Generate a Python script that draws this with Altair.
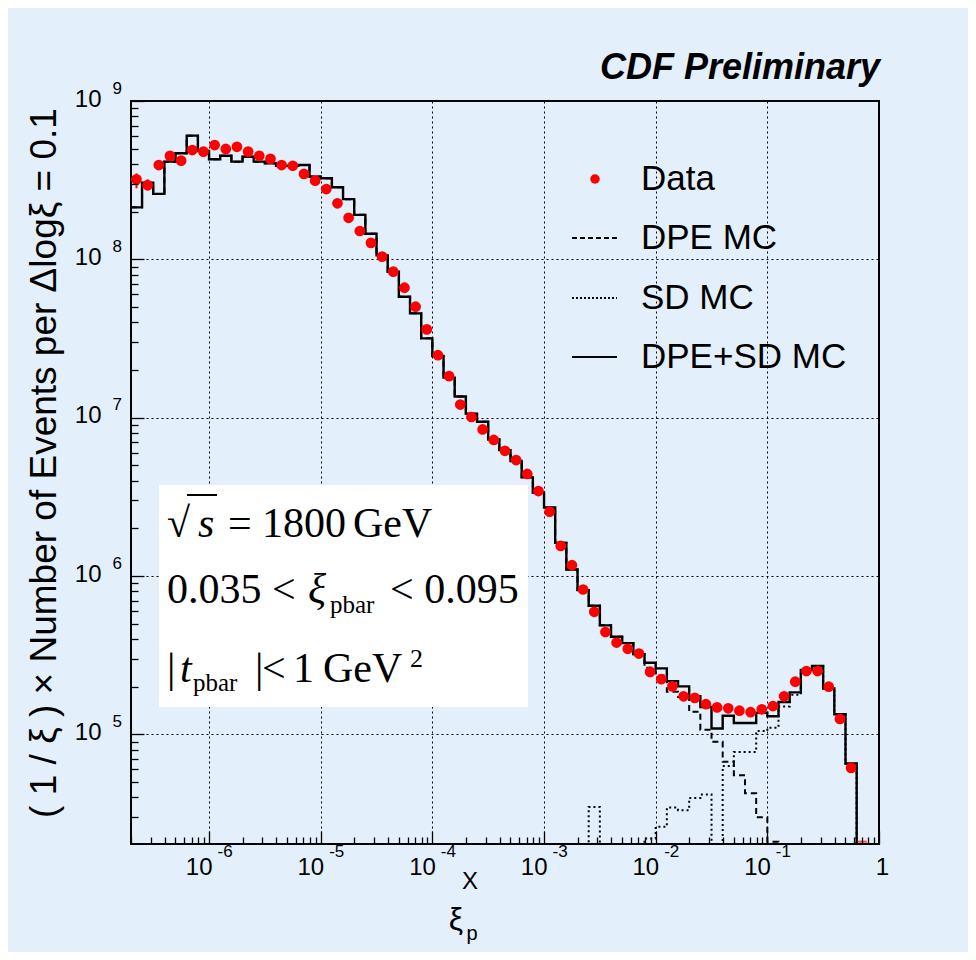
import altair as alt
import pandas as pd

# ---------------- data ----------------
BIN_LOG_START = -6.7      # log10 of the lower edge of the first bin
BIN_LOG_WIDTH = 0.1       # bin width in log10(xi)
FLOOR = 1e2               # empty bins are drawn below the axis (clipped)

# Data points, bins 0..64 (bin centres)
data_y = [3.2e8, 2.94e8, 3.94e8, 4.5e8, 4.2e8, 4.9e8, 4.79e8, 5.27e8, 4.98e8, 5.14e8,
          4.79e8, 4.51e8, 4.31e8, 3.94e8, 3.9e8, 3.46e8, 3.14e8, 2.78e8, 2.26e8, 1.83e8,
          1.51e8, 1.27e8, 1.04e8, 8.36e7, 6.62e7, 5.02e7, 3.61e7, 2.48e7, 1.83e7, 1.21e7,
          1.01e7, 8.43e6, 7.23e6, 6.18e6, 5.4e6, 4.41e6, 3.44e6, 2.55e6, 1.55e6, 1.17e6,
          8.22e5, 5.94e5, 4.43e5, 3.8e5, 3.47e5, 3.24e5, 2.48e5, 2.23e5, 2.01e5, 1.74e5,
          1.70e5, 1.55e5, 1.48e5, 1.46e5, 1.41e5, 1.38e5, 1.44e5, 1.51e5, 1.74e5, 2.15e5,
          2.51e5, 2.51e5, 2.0e5, 1.25e5, 6.14e4]

# visible error bars (bins 0 and 1)
err_bins = [0, 1]
err_low = [2.81e8, 2.72e8]
err_high = [3.49e8, 3.2e8]

# point below the axis range, only its error tick shows at the bottom
under_bins = [65]
under_y = [2.1e4]

# DPE+SD MC (solid), bins 0..66
mc_total = [2.13e8, 3.05e8, 2.59e8, 4.14e8, 4.68e8, 6.04e8, 4.83e8, 4.29e8, 4.51e8, 4.14e8,
            4.45e8, 4.14e8, 4.04e8, 3.90e8, 3.90e8, 3.94e8, 3.33e8, 3.25e8, 2.85e8, 2.40e8,
            1.91e8, 1.45e8, 1.06e8, 8.36e7, 5.81e7, 4.56e7, 3.17e7, 2.45e7, 1.79e7, 1.36e7,
            1.06e7, 9.42e6, 7.29e6, 6.24e6, 5.32e6, 4.20e6, 3.37e6, 2.71e6, 1.62e6, 1.10e6,
            8.15e5, 6.49e5, 4.88e5, 4.13e5, 3.77e5, 3.21e5, 2.83e5, 2.61e5, 2.17e5, 2.01e5,
            1.74e5, 1.49e5, 1.09e5, 1.31e5, 1.18e5, 1.18e5, 1.37e5, 1.30e5, 1.60e5, 1.84e5,
            2.55e5, 2.70e5, 1.95e5, 1.34e5, 6.55e4, 0, 0]

# DPE MC (dashed): identical to the total below bin 46
dpe_mc = mc_total[:46] + [2.63e5, 2.35e5, 1.86e5, 1.72e5, 1.39e5, 1.07e5, 8.97e4, 6.71e4,
                          5.52e4, 4.24e4, 2.99e4, 2.1e4, 0, 0, 0, 0, 0, 0, 0, 0, 0]

# SD MC (dotted)
sd_mc = [0] * 41 + [3.48e4, 0, 0, 0, 0, 2.2e4, 2.61e4, 3.45e4, 3.32e4, 3.97e4, 4.17e4, 0,
                    6.3e4, 7.74e4, 7.74e4, 1.05e5, 1.1e5, 1.5e5, 1.78e5, 2.55e5, 2.70e5,
                    1.95e5, 1.34e5, 6.55e4, 0, 0]

# axes
X_DOMAIN = [2e-7, 1.0]
Y_DOMAIN = [2.03e4, 1e9]
x_major = [1e-6, 1e-5, 1e-4, 1e-3, 1e-2, 1e-1, 1.0]
y_major = [1e5, 1e6, 1e7, 1e8, 1e9]
x_minor = [m * 10.0 ** e for e in range(-7, 0) for m in range(2, 10) if m * 10.0 ** e >= 1.99e-7]
y_minor = [m * 10.0 ** e for e in range(4, 9) for m in range(2, 10) if m * 10.0 ** e >= 2.05e4]

BG = "#e3effb"
SANS = "Liberation Sans"
SERIF = "Liberation Serif"


# ---------------- helpers ----------------
def bin_edge(i):
    return 10 ** (BIN_LOG_START + BIN_LOG_WIDTH * i)


def bin_centre(i):
    return 10 ** (BIN_LOG_START + BIN_LOG_WIDTH * (i + 0.5))


def step_frame(vals):
    rows = []
    for i, v in enumerate(vals):
        yv = v if v > 0 else FLOOR
        rows.append({"x": bin_edge(i), "y": yv, "o": 2 * i})
        rows.append({"x": bin_edge(i + 1), "y": yv, "o": 2 * i + 1})
    return pd.DataFrame(rows)


xs = alt.Scale(type="log", domain=X_DOMAIN, nice=False)
ys = alt.Scale(type="log", domain=Y_DOMAIN, nice=False)

common_lbl = dict(labelFont=SANS, labelColor="black", labelFlush=False,
                  labelOverlap=False, labelBound=False, title=None)

x_grid_axis = alt.Axis(orient="bottom", values=x_major[:-1], grid=True, gridColor="black",
                       gridDash=[2, 3], gridWidth=1, gridOpacity=1, ticks=False, labels=False,
                       domain=False, title=None, zindex=0)
y_grid_axis = alt.Axis(orient="left", values=y_major[:-1], grid=True, gridColor="black",
                       gridDash=[2, 3], gridWidth=1, gridOpacity=1, ticks=False, labels=False,
                       domain=False, title=None, zindex=0)

x_minor_axis = alt.Axis(orient="bottom", values=x_minor, offset=-7, tickSize=7,
                        tickColor="black", tickWidth=1.3, labels=False, domain=False,
                        grid=False, title=None, zindex=1)
y_minor_axis = alt.Axis(orient="left", values=y_minor, offset=-7, tickSize=7,
                        tickColor="black", tickWidth=1.3, labels=False, domain=False,
                        grid=False, title=None, zindex=1)

x_major_axis = alt.Axis(orient="bottom", values=x_major, offset=-13, tickSize=13,
                        tickColor="black", tickWidth=1.3, domain=False, grid=False,
                        labelExpr="datum.value > 0.5 ? '1' : '10'",
                        labelAlign={"condition": {"test": "datum.value > 0.5", "value": "center"},
                                    "value": "right"},
                        labelOffset=3, labelPadding=23, labelBaseline="middle",
                        labelFontSize=24, zindex=1, **common_lbl)
y_major_axis = alt.Axis(orient="left", values=y_major, offset=-13, tickSize=13,
                        tickColor="black", tickWidth=1.3, domain=False, grid=False,
                        labelExpr="'10'", labelAlign="right", labelOffset=-2,
                        labelPadding=30, labelBaseline="middle", labelFontSize=24,
                        zindex=1, **common_lbl)

x_exp_axis = alt.Axis(orient="bottom", values=x_major[:-1], ticks=False, tickSize=0,
                      domain=False, grid=False,
                      labelExpr="'' + round(log(datum.value) / LN10)",
                      labelAlign="left", labelOffset=8, labelPadding=7,
                      labelBaseline="middle", labelFontSize=17, zindex=1, **common_lbl)
y_exp_axis = alt.Axis(orient="left", values=y_major, ticks=False, tickSize=0,
                      domain=False, grid=False,
                      labelExpr="'' + round(log(datum.value) / LN10)",
                      labelAlign="left", labelOffset=-13, labelPadding=19,
                      labelBaseline="middle", labelFontSize=17, zindex=1, **common_lbl)

dummy = pd.DataFrame({"a": [0]})


def txt(text, x, y, size, font=SANS, style="normal", weight="normal",
        align="left", baseline="alphabetic", angle=0):
    mk = dict(text=text, font=font, fontSize=size, fontStyle=style, fontWeight=weight,
              align=align, baseline=baseline, color="black")
    if angle:
        mk["angle"] = angle
    return alt.Chart(dummy).mark_text(**mk).encode(x=alt.value(x), y=alt.value(y))


def rule(x1, x2, y, dash=None, width=2, color="black"):
    mk = dict(color=color, strokeWidth=width)
    if dash:
        mk["strokeDash"] = dash
    return alt.Chart(dummy).mark_rule(**mk).encode(
        x=alt.value(x1), x2=alt.value(x2), y=alt.value(y))


# ---------------- layers ----------------
box = alt.Chart(dummy).mark_rect(fill="white", stroke=None).encode(
    x=alt.value(28), x2=alt.value(397), y=alt.value(384), y2=alt.value(606))

sd_layer = alt.Chart(step_frame(sd_mc)).mark_line(
    color="black", strokeWidth=2, strokeDash=[2, 3], clip=True).encode(
    x=alt.X("x:Q", scale=xs, axis=x_grid_axis),
    y=alt.Y("y:Q", scale=ys, axis=y_grid_axis),
    order="o:Q")

dpe_layer = alt.Chart(step_frame(dpe_mc)).mark_line(
    color="black", strokeWidth=2, strokeDash=[6, 4], clip=True).encode(
    x=alt.X("x:Q", scale=xs, axis=x_minor_axis),
    y=alt.Y("y:Q", scale=ys, axis=y_minor_axis),
    order="o:Q")

tot_layer = alt.Chart(step_frame(mc_total)).mark_line(
    color="black", strokeWidth=2.4, clip=True).encode(
    x=alt.X("x:Q", scale=xs, axis=x_major_axis),
    y=alt.Y("y:Q", scale=ys, axis=y_major_axis),
    order="o:Q")

err_df = pd.DataFrame({"x": [bin_centre(i) for i in err_bins], "lo": err_low, "hi": err_high})
err_layer = alt.Chart(err_df).mark_rule(color="#ff0000", strokeWidth=2, clip=True).encode(
    x=alt.X("x:Q", scale=xs, axis=None),
    y=alt.Y("lo:Q", scale=ys, axis=None),
    y2="hi:Q")

pts_df = pd.DataFrame({"x": [bin_centre(i) for i in range(len(data_y))], "y": data_y})
pts_layer = alt.Chart(pts_df).mark_circle(color="#ff0000", size=115, opacity=1, clip=True).encode(
    x=alt.X("x:Q", scale=xs, axis=x_exp_axis),
    y=alt.Y("y:Q", scale=ys, axis=y_exp_axis))

under_df = pd.DataFrame({"x": [bin_centre(i) for i in under_bins], "y": under_y})
under_layer = alt.Chart(under_df).mark_tick(
    color="#ff0000", thickness=2, size=9, orient="horizontal").encode(
    x=alt.X("x:Q", scale=xs, axis=None),
    y=alt.Y("y:Q", scale=ys, axis=None))

# legend (drawn by hand, ROOT style)
leg_pt = alt.Chart(dummy).mark_circle(color="#ff0000", size=90, opacity=1).encode(
    x=alt.value(464), y=alt.value(78))
legend = [
    leg_pt,
    rule(441, 486, 137, dash=[5, 3]),
    rule(441, 486, 197, dash=[2, 2]),
    rule(441, 486, 256),
    txt("Data", 510, 78, 35, baseline="middle"),
    txt("DPE MC", 510, 137, 35, baseline="middle"),
    txt("SD MC", 510, 197, 35, baseline="middle"),
    txt("DPE+SD MC", 510, 256, 35, baseline="middle"),
]

# text box contents
box_text = [
    txt("\u221a", 36, 436, 42, font=SERIF),
    rule(56, 86, 394, width=2),
    txt("s", 67, 436, 42, font=SERIF, style="italic"),
    txt("=", 97, 436, 42, font=SERIF),
    txt("1800", 131, 436, 42, font=SERIF),
    txt("GeV", 222, 436, 42, font=SERIF),
    txt("0.035 <", 36, 502, 42, font=SERIF),
    txt("\u03be", 177, 502, 42, font=SERIF, style="italic"),
    txt("pbar", 199, 512, 25, font=SERIF),
    txt("< 0.095", 259, 502, 42, font=SERIF),
    txt("|", 36, 581, 42, font=SERIF),
    txt("t", 49, 581, 42, font=SERIF, style="italic"),
    txt("pbar", 62, 590, 25, font=SERIF),
    txt("|", 124, 581, 42, font=SERIF),
    txt("<", 131, 581, 42, font=SERIF),
    txt("1", 162, 581, 42, font=SERIF),
    txt("GeV", 192, 581, 42, font=SERIF),
    txt("2", 279, 566, 26, font=SERIF),
]

titles = [
    txt("CDF Preliminary", 749, -22, 36, style="italic", weight="bold", align="right"),
    txt("( 1 / \u03be ) \u00d7 Number of Events per \u0394log\u03be = 0.1", -86, 362, 37,
        align="center", baseline="middle", angle=270),
    txt("X", 339, 781, 24, align="center", baseline="middle"),
    txt("\u03be", 325, 819, 32, align="center", baseline="middle"),
    txt("p", 341, 833, 20, align="center", baseline="middle"),
]

chart = alt.layer(
    box, sd_layer, dpe_layer, tot_layer, err_layer, pts_layer, under_layer,
    *legend, *box_text, *titles
).resolve_axis(
    x="independent", y="independent"
).properties(
    width=748, height=743,
    autosize=alt.AutoSizeParams(type="none"),
    padding={"left": 123, "top": 93, "right": 89, "bottom": 108},
    background=BG,
).configure_view(
    stroke="black", strokeWidth=2
)

chart.save("out.html", embed_options={"renderer": "svg", "actions": False})
